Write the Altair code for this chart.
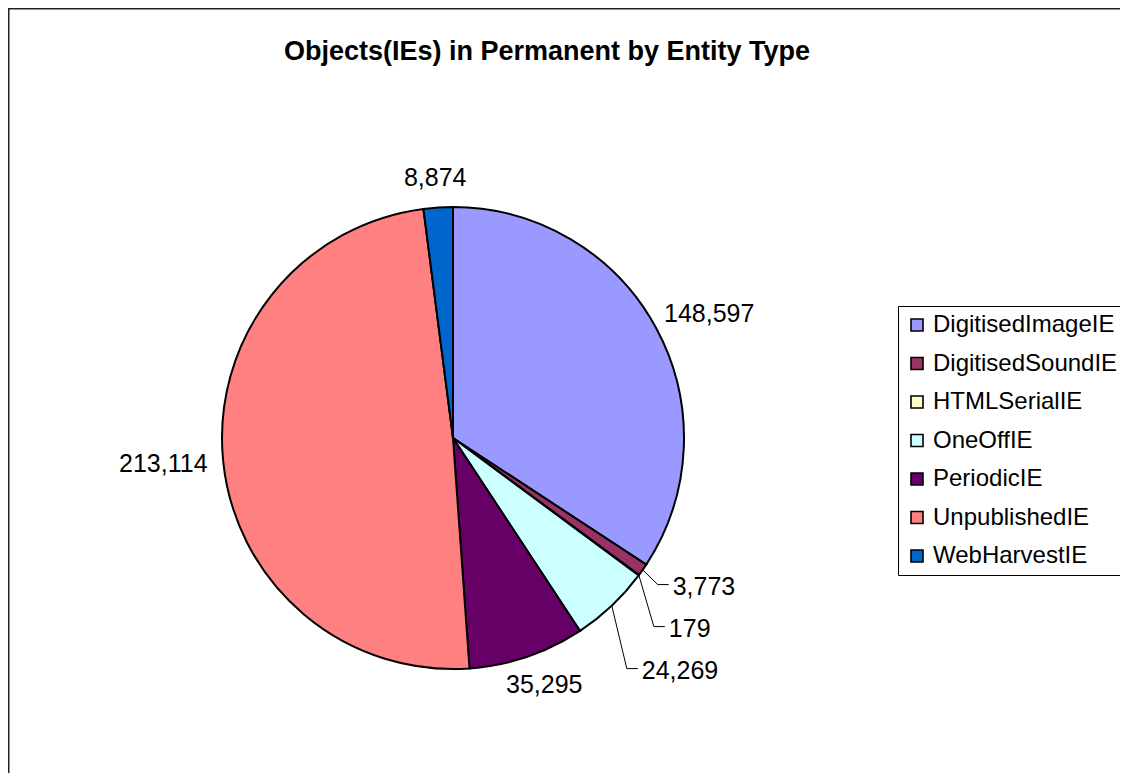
import math
import altair as alt
import pandas as pd

# ---- data ----
categories = ["DigitisedImageIE", "DigitisedSoundIE", "HTMLSerialIE", "OneOffIE",
              "PeriodicIE", "UnpublishedIE", "WebHarvestIE"]
values = [148597, 3773, 179, 24269, 35295, 213114, 8874]
colors = ["#9999FF", "#993366", "#FFFFCC", "#CCFFFF", "#660066", "#FF8080", "#0066CC"]
title_text = "Objects(IEs) in Permanent by Entity Type"

# ---- layout ----
W, H = 1112, 765          # view size (page margin 8px)
CX, CY = 445, 430         # pie centre inside the view
R = 231                   # pie radius
FONT = "Liberation Sans"
LABEL_SIZE = 25
GAP = 15
SPACING = 42

df = pd.DataFrame({"cat": categories, "value": values, "idx": list(range(len(values)))})

# ---- data labels (Excel-like outside labels with leader lines when crowded) ----
def text_w(s):
    return sum((0.278 if ch == "," else 0.556) * LABEL_SIZE for ch in s)

total = float(sum(values))
cum = 0.0
labs = []
for c, v in zip(categories, values):
    mid = (cum + v / 2.0) / total * 2 * math.pi
    cum += v
    s, co = math.sin(mid), -math.cos(mid)
    lab = f"{v:,}"
    w = text_w(lab)
    h = LABEL_SIZE * 1.15
    px, py = (R + GAP) * s, (R + GAP) * co
    labs.append(dict(lab=lab, s=s, co=co, w=w, h=h,
                     cx=px + w / 2 * s, cy=py + h / 2 * co,
                     ex=R * s, ey=R * co, leader=False))

def overlaps(a, b):
    return (abs(a["cx"] - b["cx"]) < (a["w"] + b["w"]) / 2 and
            abs(a["cy"] - b["cy"]) < (a["h"] + b["h"]) / 2)

def to_leader(a):
    a["leader"] = True
    if a["s"] >= 0:
        a["cx"] = a["ex"] + 30 + a["w"] / 2
    else:
        a["cx"] = a["ex"] - 30 - a["w"] / 2

for i in range(1, len(labs)):
    a, prev = labs[i], labs[i - 1]
    if overlaps(a, prev):
        if not prev["leader"]:
            to_leader(prev)
        to_leader(a)
        if a["co"] >= 0:
            a["cy"] = max(a["cy"], prev["cy"] + SPACING)
        else:
            a["cy"] = min(a["cy"], prev["cy"] - SPACING)

label_df = pd.DataFrame([{"lab": a["lab"], "x": a["cx"], "y": a["cy"]} for a in labs])

seg_rows = []
for a in labs:
    if not a["leader"]:
        continue
    sign = 1 if a["s"] >= 0 else -1
    edge_text = a["cx"] - sign * a["w"] / 2
    ly = a["cy"] - 2
    pts = [(a["ex"], a["ey"]), (edge_text - sign * 15, ly), (edge_text - sign * 4, ly)]
    for k, (x, y) in enumerate(pts):
        seg_rows.append({"lab": a["lab"], "k": k, "x": x, "y": y})
seg_df = pd.DataFrame(seg_rows)

xs = alt.Scale(domain=[-CX, W - CX], nice=False, zero=False)
ys = alt.Scale(domain=[-CY, H - CY], nice=False, zero=False, reverse=True)

pie = alt.Chart(df).mark_arc(radius=R, stroke="#000000", strokeWidth=2).encode(
    theta=alt.Theta("value:Q", stack=True),
    order=alt.Order("idx:Q"),
    color=alt.Color(
        "cat:N",
        scale=alt.Scale(domain=categories, range=colors),
        legend=alt.Legend(
            title=None, orient="none", legendX=890, legendY=298,
            symbolType="square", symbolSize=144, symbolStrokeColor="#000000",
            symbolStrokeWidth=1.6, symbolOpacity=1,
            labelFont=FONT, labelFontSize=24, labelColor="#000000",
            labelOffset=4, rowPadding=14.5, padding=7,
            strokeColor="#000000", labelLimit=400,
        ),
    ),
    x=alt.value(CX),
    y=alt.value(CY),
)

labels = alt.Chart(label_df).mark_text(
    font=FONT, fontSize=LABEL_SIZE, color="#000000", align="center", baseline="middle"
).encode(
    x=alt.X("x:Q", scale=xs, axis=None),
    y=alt.Y("y:Q", scale=ys, axis=None),
    text="lab:N",
)

leaders = alt.Chart(seg_df).mark_line(color="#000000", strokeWidth=1).encode(
    x=alt.X("x:Q", scale=xs, axis=None),
    y=alt.Y("y:Q", scale=ys, axis=None),
    detail="lab:N",
    order="k:Q",
)

title = alt.Chart(pd.DataFrame({"t": [title_text]})).mark_text(
    font=FONT, fontSize=27, fontWeight="bold", color="#000000",
    align="center", baseline="alphabetic"
).encode(text="t:N", x=alt.value(539), y=alt.value(52))

bdf = pd.DataFrame({"k": [0]})
border_top = alt.Chart(bdf).mark_rule(color="#222222", strokeWidth=1.5).encode(
    x=alt.value(0), x2=alt.value(W), y=alt.value(0.75))
border_left = alt.Chart(bdf).mark_rule(color="#222222", strokeWidth=1.5).encode(
    x=alt.value(0.75), y=alt.value(0), y2=alt.value(H))

chart = alt.layer(pie, leaders, labels, title, border_top, border_left).properties(
    width=W, height=H, padding=0, autosize="none"
).configure_view(strokeWidth=0)

chart.save("out.html", embed_options={"renderer": "svg", "actions": False})
